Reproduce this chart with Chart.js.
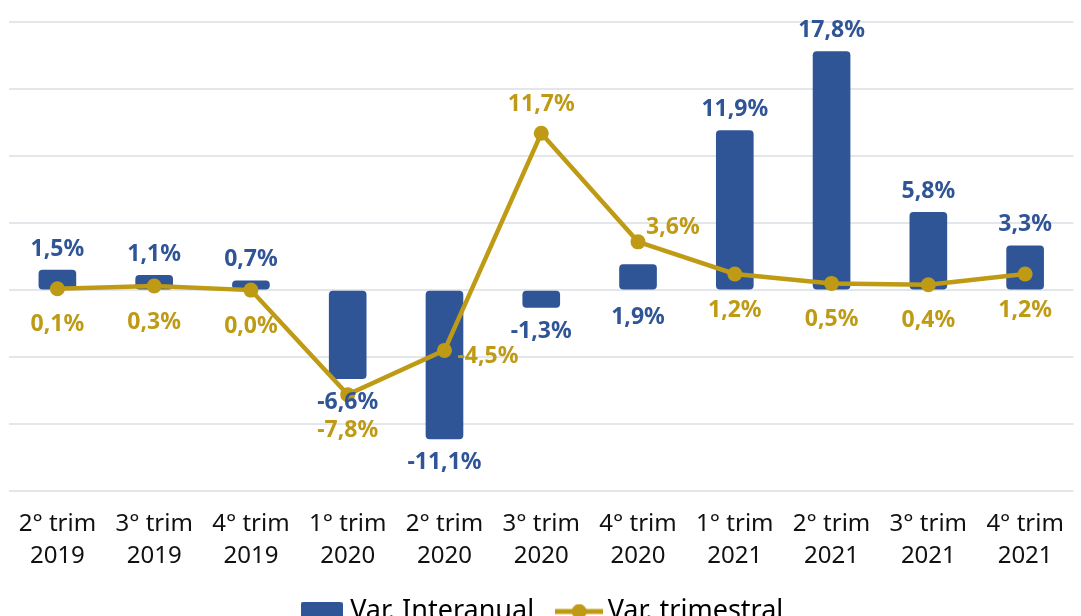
<!DOCTYPE html>
<html>
<head>
<meta charset="utf-8">
<script src="https://cdn.jsdelivr.net/npm/chart.js@4/dist/chart.umd.min.js"></script>
<style>
html, body { margin: 0; padding: 0; background: #fff; overflow: hidden; }
#wrap { width: 1081px; height: 616px; overflow: hidden; }
</style>
</head>
<body>
<div id="wrap"><canvas id="chart" width="1081" height="635" style="width:1081px;height:635px"></canvas></div>
<script>
// dados
const trimestres = [
    ['2° trim', '2019'], ['3° trim', '2019'], ['4° trim', '2019'],
    ['1° trim', '2020'], ['2° trim', '2020'], ['3° trim', '2020'], ['4° trim', '2020'],
    ['1° trim', '2021'], ['2° trim', '2021'], ['3° trim', '2021'], ['4° trim', '2021']
];
const varInteranual = [1.5, 1.1, 0.7, -6.6, -11.1, -1.3, 1.9, 11.9, 17.8, 5.8, 3.3];
const varTrimestral = [0.1, 0.3, 0.0, -7.8, -4.5, 11.7, 3.6, 1.2, 0.5, 0.4, 1.2];

const azul = '#2F5597';
const dourado = '#BF9B15';

// onde vai o rótulo de cada ponto
const posBarra = ['fora', 'fora', 'fora', 'fora', 'fora', 'fora', 'base', 'fora', 'fora', 'fora', 'fora'];
const posLinha = ['abaixo', 'abaixo', 'abaixo', 'abaixo', 'direita', 'acima', 'direitaAcima', 'abaixo', 'abaixo', 'abaixo', 'abaixo'];

function fmt(v) {
    return v.toFixed(1).replace('.', ',') + '%';
}

// icones da legenda
function iconeBarra() {
    let c = document.createElement('canvas');
    c.width = 42; c.height = 20;
    let ctx = c.getContext('2d');
    ctx.fillStyle = azul;
    ctx.beginPath();
    ctx.roundRect(0, 0, 42, 20, 3);
    ctx.fill();
    return c;
}
function iconeLinha() {
    let c = document.createElement('canvas');
    c.width = 48; c.height = 16;
    let ctx = c.getContext('2d');
    ctx.strokeStyle = dourado;
    ctx.lineWidth = 5;
    ctx.beginPath();
    ctx.moveTo(0, 8); ctx.lineTo(48, 8);
    ctx.stroke();
    ctx.fillStyle = dourado;
    ctx.beginPath();
    ctx.arc(24, 8, 7.5, 0, Math.PI * 2);
    ctx.fill();
    return c;
}
const icones = [iconeBarra(), iconeLinha()];

const rotulos = {
    id: 'rotulos',
    afterDatasetsDraw(chart) {
        let ctx = chart.ctx;
        ctx.save();
        ctx.font = 'bold 23px "Noto Sans"';
        ctx.textBaseline = 'middle';
        // barras
        chart.getDatasetMeta(0).data.forEach((el, i) => {
            let v = varInteranual[i];
            let y;
            if (posBarra[i] == 'base') y = el.base + 28;
            else y = v < 0 ? el.y + 24 : el.y - 21;
            ctx.fillStyle = azul;
            ctx.textAlign = 'center';
            ctx.fillText(fmt(v), el.x, y);
        });
        // linha
        chart.getDatasetMeta(1).data.forEach((el, i) => {
            let v = varTrimestral[i];
            ctx.fillStyle = dourado;
            let p = posLinha[i];
            if (p == 'abaixo') { ctx.textAlign = 'center'; ctx.fillText(fmt(v), el.x, el.y + 36); }
            else if (p == 'acima') { ctx.textAlign = 'center'; ctx.fillText(fmt(v), el.x, el.y - 29); }
            else if (p == 'direita') { ctx.textAlign = 'left'; ctx.fillText(fmt(v), el.x + 13, el.y + 6); }
            else { ctx.textAlign = 'left'; ctx.fillText(fmt(v), el.x + 8, el.y - 14); }
        });
        ctx.restore();
    }
};

let ctx = document.getElementById('chart').getContext('2d');
let grafico = new Chart(ctx, {
    type: 'bar',
    data: {
        labels: trimestres,
        datasets: [
            {
                type: 'bar', label: 'Var. Interanual', data: varInteranual,
                backgroundColor: azul, borderRadius: 4, borderSkipped: false,
                barThickness: 37, order: 1
            },
            {
                type: 'line', label: 'Var. trimestral', data: varTrimestral,
                borderColor: dourado, backgroundColor: dourado, borderWidth: 4.5,
                pointRadius: 7.5, pointBackgroundColor: dourado, pointBorderWidth: 0,
                tension: 0, order: 0
            }
        ]
    },
    options: {
        responsive: false,
        animation: false,
        layout: { padding: { left: 9, right: 0, top: 22, bottom: 0 } },
        scales: {
            x: {
                grid: { display: false },
                border: { display: false },
                ticks: {
                    color: '#111',
                    padding: 9,
                    maxRotation: 0,
                    autoSkip: false,
                    font: { family: '"Noto Sans"', size: 24, lineHeight: 1.33 }
                },
                afterFit(scale) { scale.height -= 13; }
            },
            y: {
                min: -15, max: 20,
                ticks: { display: false, stepSize: 5 },
                border: { display: false },
                grid: { color: '#E3E6EA', lineWidth: 2, drawTicks: false }
            }
        },
        plugins: {
            tooltip: { enabled: false },
            legend: {
                position: 'bottom',
                labels: {
                    usePointStyle: true,
                    pointStyleWidth: 30,
                    padding: 30,
                    color: '#111',
                    font: { family: '"Noto Sans"', size: 27 },
                    generateLabels: chart => chart.data.datasets.map((ds, i) => ({
                        text: ds.label,
                        fillStyle: dourado,
                        strokeStyle: dourado,
                        lineWidth: 0,
                        pointStyle: icones[i],
                        hidden: false,
                        datasetIndex: i
                    }))
                }
            }
        }
    },
    plugins: [rotulos]
});
</script>
</body>
</html>
